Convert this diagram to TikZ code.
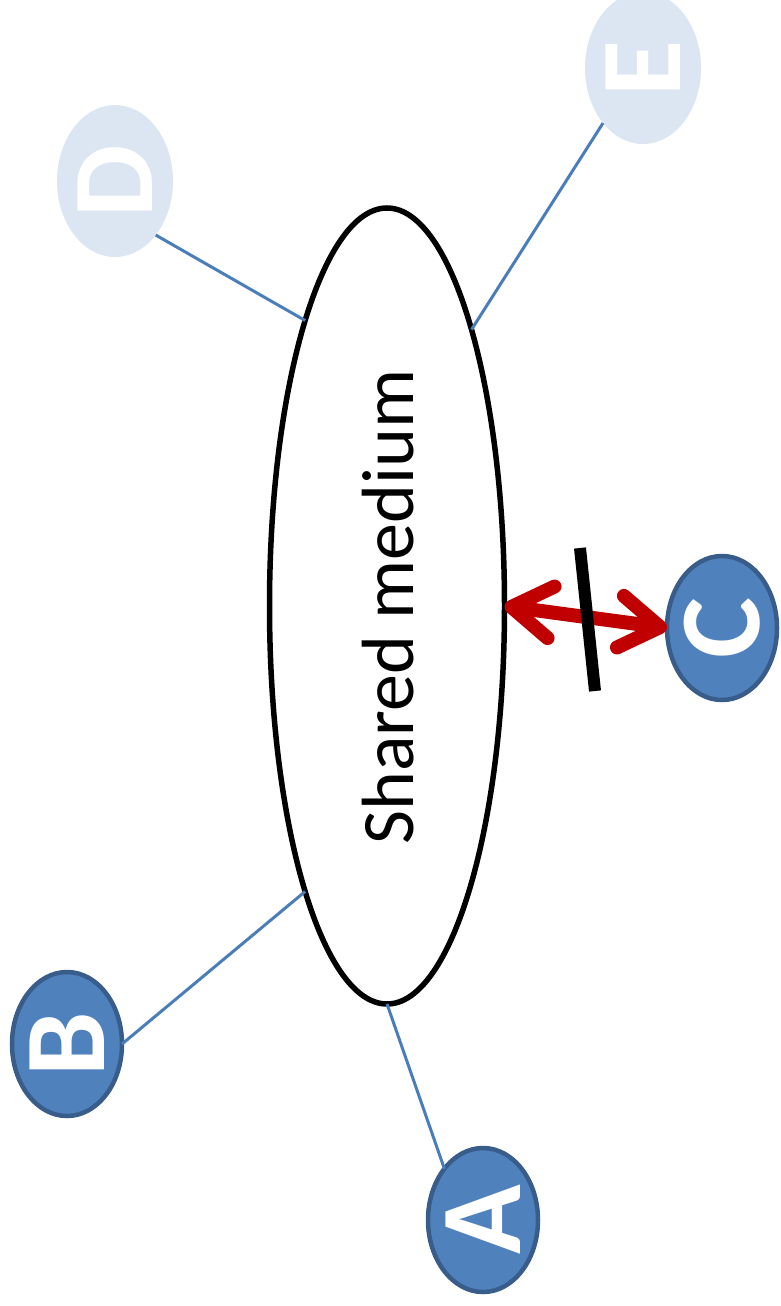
\documentclass[tikz,border=0pt]{standalone}
\usepackage{fontspec}
\setmainfont{Carlito}
\usetikzlibrary{shapes.geometric,arrows.meta}
\definecolor{nodeblue}{HTML}{4F81BD}
\definecolor{nodeborder}{HTML}{385D8A}
\definecolor{fadedblue}{HTML}{DCE6F2}
\definecolor{linkblue}{HTML}{4A7EBB}
\definecolor{arrowred}{HTML}{C00000}
\begin{document}
\begin{tikzpicture}[x=1pt,y=-1pt,
  medium/.style={ellipse,draw=black,line width=5.5pt,fill=white,inner sep=0pt,outer sep=0pt,minimum width=235pt,minimum height=796pt},
  mlabel/.style={rotate=90,inner sep=0pt,font=\fontsize{74}{80}\selectfont},
  station/.style={ellipse,draw=nodeborder,line width=4.5pt,fill=nodeblue,inner sep=0pt,outer sep=0pt,minimum width=110pt,minimum height=144pt},
  faded/.style={ellipse,fill=fadedblue,inner sep=0pt,outer sep=0pt,minimum width=116pt,minimum height=152pt},
  letter/.style={rotate=90,inner sep=0pt,text=white,font=\fontsize{115}{120}\selectfont\bfseries},
  link/.style={draw=linkblue,line width=3pt},
  blocked/.style={draw=arrowred,line width=14pt,{Straight Barb[length=40pt,width=52pt,round]}-{Straight Barb[length=40pt,width=52pt,round]}},
  bar/.style={draw=black,line width=12pt}
]
\useasboundingbox (0,0) rectangle (781,1306);
\node[medium] (M) at (387,606) {};
\node[mlabel] (ML) at (388,607) {Shared medium};
\node[station] (A) at (483,1220) {};
\node[letter] (AL) at (A.center) {A};
\node[station] (B) at (67,1044) {};
\node[letter] (BL) at (B.center) {B};
\node[station] (C) at (722,628) {};
\node[letter] (CL) at (C.center) {C};
\node[faded] (D) at (115,181) {};
\node[letter] (DL) at (D.center) {D};
\node[faded] (E) at (643,68) {};
\node[letter] (EL) at (E.center) {E};
\draw[link] (D.-53) -- (M.106.9);
\draw[link] (E.-126.4) -- (M.73.1);
\draw[link] (B.east) -- (M.-106.9);
\draw[link] (A.127.2) -- (M.south);
\draw[blocked] (M.east) -- (C.west);
\coordinate (barTop) at (580,548);
\coordinate (barBot) at (595,691);
\draw[bar] (barTop) -- (barBot);
\end{tikzpicture}
\end{document}
